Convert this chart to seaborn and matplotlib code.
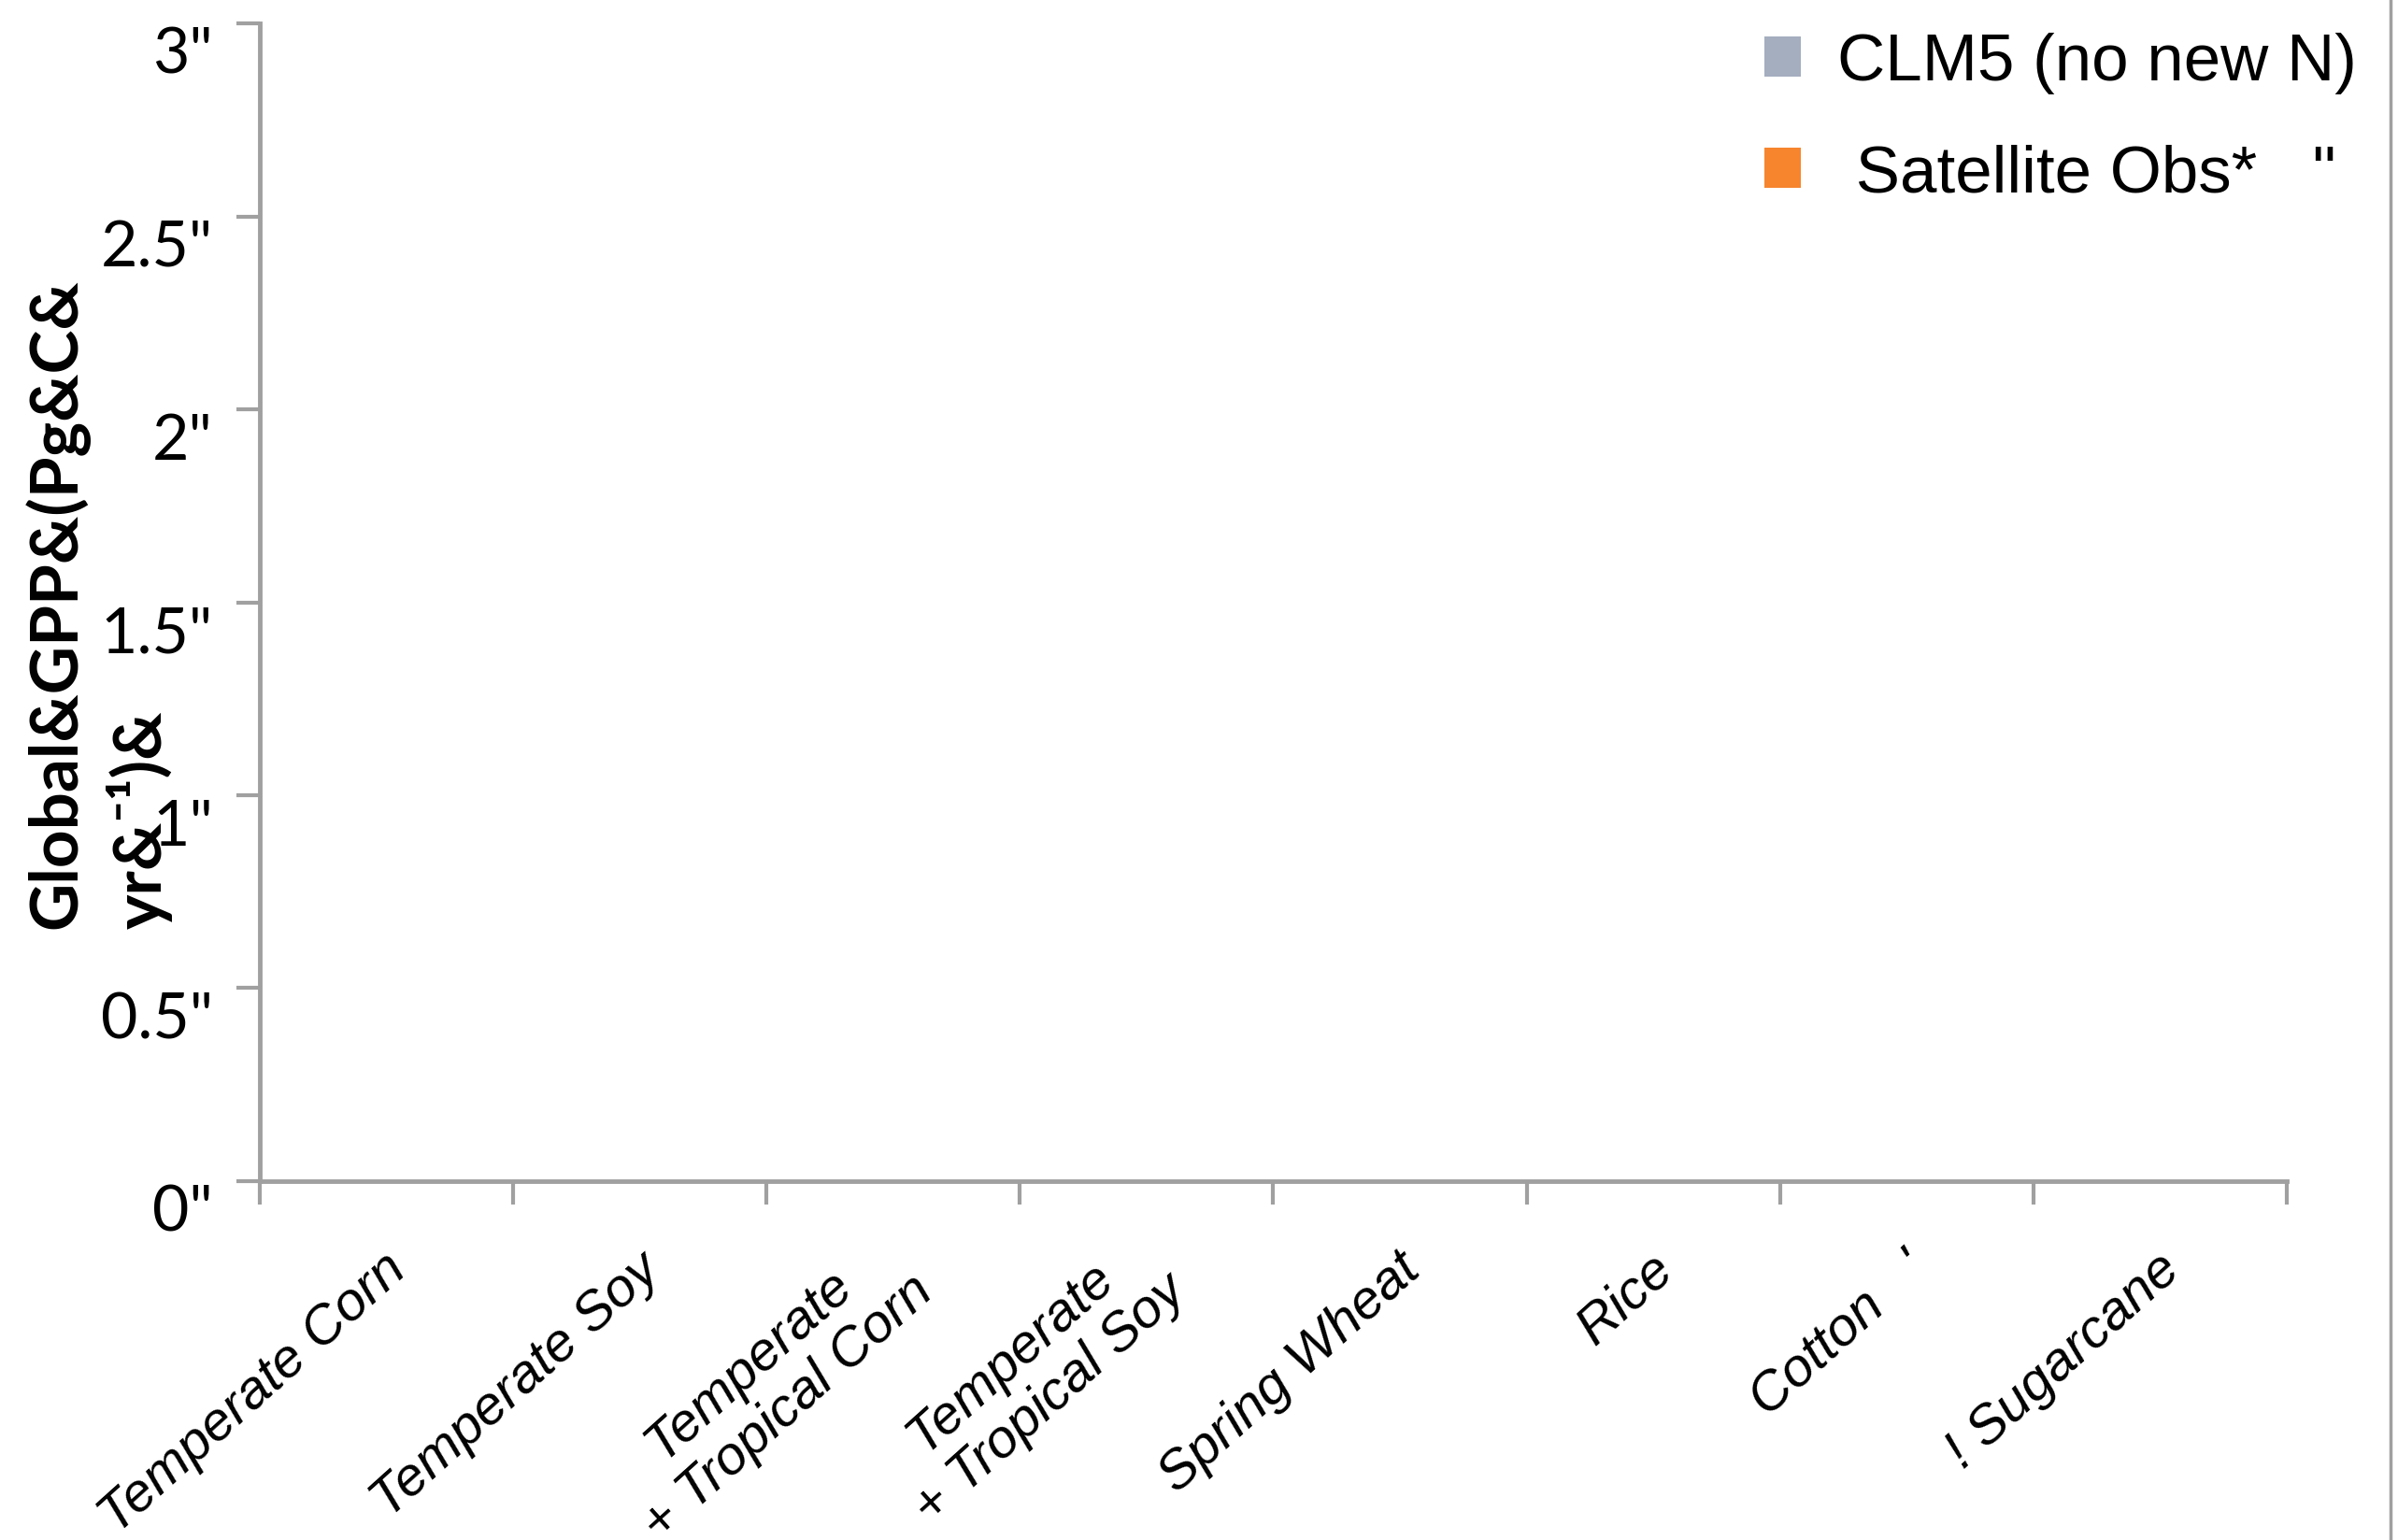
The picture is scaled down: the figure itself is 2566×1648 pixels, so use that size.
import matplotlib
matplotlib.use("Agg")
import matplotlib.pyplot as plt
import matplotlib.transforms as mtransforms
from matplotlib.patches import Patch
from matplotlib.lines import Line2D
import numpy as np
import pandas as pd
import seaborn as sns

# values: every bar sits on the zero line
crops = ["Temperate Corn", "Temperate Soy", "Temperate\n+ Tropical Corn",
         "Temperate\n+ Tropical Soy", "Spring Wheat", "Rice", "Cotton   '",
         "! Sugarcane"]
clm5 = [0.005, 0.005, 0.005, 0.005, 0.005, 0.005, 0.005, 0.005]
sat_obs = [0.0, 0.005, 0.0, 0.005, 0.0, 0.0, 0.005, 0.005]
series = ["CLM5 (no new N)", " Satellite Obs*   \""]
yticks = [0, 0.5, 1, 1.5, 2, 2.5, 3]
ytick_labels = ['0"', '0.5"', '1"', '1.5"', '2"', '2.5"', '3"']

gray = "#A4AEBF"
orange = "#F6852E"
axis_gray = "#A0A0A0"

sns.set_style("white")
plt.rcParams["font.family"] = ["Liberation Sans", "DejaVu Sans"]
plt.rcParams["text.color"] = "black"
plt.rcParams["xtick.color"] = "black"
plt.rcParams["ytick.color"] = "black"

df = pd.DataFrame({
    "crop": crops * 2,
    "gpp": clm5 + sat_obs,
    "series": [series[0]] * len(crops) + [series[1]] * len(crops),
})

fig = plt.figure(figsize=(25.66, 16.49), dpi=100)
ax = fig.add_axes([0.1083, 0.2329, 0.8453, 0.7513])

sns.barplot(data=df, x="crop", y="gpp", hue="series", palette=[gray, orange],
            width=0.57, saturation=1, ax=ax, legend=False)

ax.set_xlim(-0.5, len(crops) - 0.5)
ax.set_ylim(0, 3)
ax.set_xlabel("")
ax.set_ylabel("")

for side in ["top", "right"]:
    ax.spines[side].set_visible(False)
for side in ["left", "bottom"]:
    ax.spines[side].set_color(axis_gray)
    ax.spines[side].set_linewidth(3.5)

# y axis
ax.set_yticks(yticks)
ax.set_yticklabels(ytick_labels, family=["Lato", "DejaVu Sans"], fontsize=49,
                   color="black")
ax.tick_params(axis="y", left=True, length=18, width=3, color=axis_gray,
               pad=18, labelcolor="black")
shift = mtransforms.ScaledTranslation(0, -20 / 72, fig.dpi_scale_trans)
for lab in ax.get_yticklabels():
    lab.set_transform(lab.get_transform() + shift)

# x axis: labels at centres, tick marks between categories
ax.set_xticks(range(len(crops)))
ax.set_xticklabels(crops, rotation=42, ha="right", va="center",
                   rotation_mode="anchor", style="italic", fontsize=42,
                   multialignment="center", color="black")
ax.tick_params(axis="x", which="major", bottom=True, length=0, pad=62)
ax.set_xticks(np.arange(-0.5, len(crops), 1), minor=True)
ax.tick_params(axis="x", which="minor", bottom=True, length=18, width=3,
               color=axis_gray, direction="out")
xshift = mtransforms.ScaledTranslation(10 / 72, 0, fig.dpi_scale_trans)
for lab in ax.get_xticklabels():
    lab.set_transform(lab.get_transform() + xshift)

fig.text(0.041, 0.608, "Global&GPP&(Pg&C&\nyr&\u207b\u00b9)&", rotation=90,
         ha="center", va="center", multialignment="left",
         family=["Lato", "DejaVu Sans"], fontweight="bold", fontsize=51,
         linespacing=1.3, color="black")

handles = [Patch(facecolor=gray, edgecolor="none"),
           Patch(facecolor=orange, edgecolor="none")]
fig.legend(handles, series, loc="upper left", bbox_to_anchor=(0.722, 1.0),
           frameon=False, fontsize=51, handlelength=0.55, handleheight=0.55,
           handletextpad=0.55, labelspacing=0.75, borderaxespad=0.1,
           labelcolor="black")

fig.add_artist(Line2D([0.9968, 0.9968], [0, 1], transform=fig.transFigure,
                      color=axis_gray, lw=2.5))

fig.savefig("out.png", dpi=100)
